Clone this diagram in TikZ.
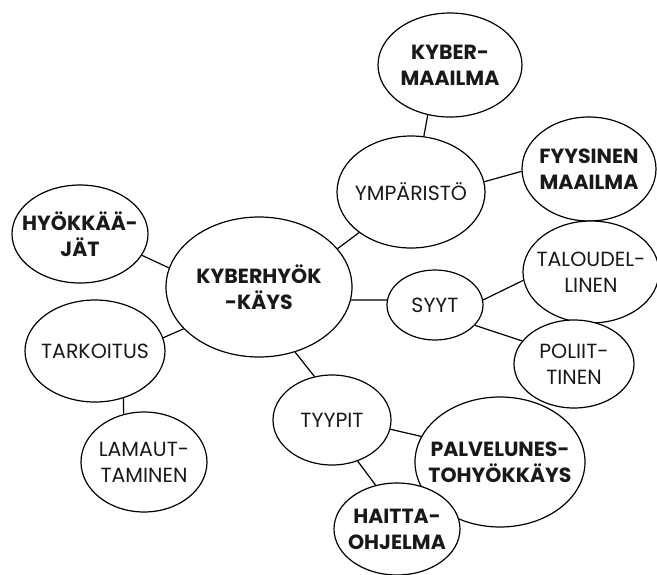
\documentclass[tikz,border=0pt]{standalone}
\usepackage{fontspec}
\setmainfont{Poppins}
\usetikzlibrary{shapes.geometric}
\tikzset{
  bubble/.style={ellipse, draw=black, line width=1.2pt, fill=white, inner sep=0pt},
  plaintxt/.style={align=center, inner sep=0pt, text=black!90,
    font=\fontsize{20.5}{26}\selectfont},
  boldtxt/.style={plaintxt, font=\fontsize{20.5}{26}\selectfont\bfseries},
  link/.style={draw=black, line width=1.2pt}
}
\begin{document}
\begin{tikzpicture}[x=1pt,y=-1pt]
\clip (0,0) rectangle (657,574);
\fill[white] (0,0) rectangle (657,574);

% bubbles; the text sits in a centred label so the ellipse keeps its size
\node[bubble, minimum width=144pt, minimum height=104pt,
  label={[boldtxt]center:KYBER-\\MAAILMA}] (km) at (450,65) {};
\node[bubble, minimum width=148pt, minimum height=112pt,
  label={[plaintxt]center:YMPÄRISTÖ}] (ymp) at (411,192) {};
\node[bubble, minimum width=134pt, minimum height=104pt,
  label={[boldtxt]center:FYYSINEN\\MAAILMA}] (fyy) at (589,169) {};
\node[bubble, minimum width=136pt, minimum height=102pt,
  label={[plaintxt]center:TALOUDEL-\\LINEN}] (tal) at (591,272) {};
\node[bubble, minimum width=120pt, minimum height=88pt,
  label={[plaintxt]center:POLIIT-\\TINEN}] (pol) at (574,364) {};
\node[bubble, minimum width=96pt, minimum height=70pt,
  label={[plaintxt]center:SYYT}] (syy) at (435,305) {};
\node[bubble, minimum width=186pt, minimum height=140pt,
  label={[boldtxt]center:KYBERHYÖK\\-KÄYS}] (kh) at (259,287) {};
\node[bubble, minimum width=136pt, minimum height=98pt,
  label={[boldtxt]center:HYÖKKÄÄ-\\JÄT}] (hyo) at (80,234) {};
\node[bubble, minimum width=140pt, minimum height=102pt,
  label={[plaintxt]center:TARKOITUS}] (tar) at (95,351) {};
\node[bubble, minimum width=126pt, minimum height=100pt,
  label={[plaintxt]center:LAMAUT-\\TAMINEN}] (lam) at (144,462) {};
\node[bubble, minimum width=118pt, minimum height=90pt,
  label={[plaintxt]center:TYYPIT}] (tyy) at (332,420) {};
\node[bubble, minimum width=170pt, minimum height=130pt,
  label={[boldtxt]center:PALVELUNES-\\TOHYÖKKÄYS}] (pal) at (500,462) {};
\node[bubble, minimum width=126pt, minimum height=92pt,
  label={[boldtxt]center:HAITTA-\\OHJELMA}] (hai) at (397,529) {};

% connectors between bubbles
\draw[link] (km.246)  -- (ymp.77.5);
\draw[link] (ymp.8)   -- (fyy.182);
\draw[link] (ymp.218) -- (kh.26);
\draw[link] (kh.-8)   -- (syy.174);
\draw[link] (syy.6)   -- (tal.187);
\draw[link] (syy.-27) -- (pol.156);
\draw[link] (kh.168)  -- (hyo.-19);
\draw[link] (kh.209)  -- (tar.11);
\draw[link] (tar.-59) -- (lam.113);
\draw[link] (kh.-61)  -- (tyy.112);
\draw[link] (tyy.-9)  -- (pal.162);
\draw[link] (tyy.-58) -- (hai.116);
\end{tikzpicture}
\end{document}
